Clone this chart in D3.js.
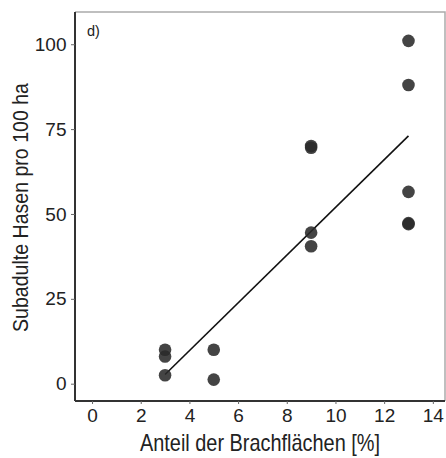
<!DOCTYPE html>
<html>
<head>
<meta charset="utf-8">
<script src="https://cdn.jsdelivr.net/npm/d3@7"></script>
<style>
  body { margin: 0; background: #fff; }
  text { font-family: "Liberation Sans Narrow", "Arial Narrow", "Liberation Sans", Arial, sans-serif; fill: #222; }
</style>
</head>
<body>
<div id="chart"></div>
<script>
// values
const brache = [3, 3, 3, 5, 5, 9, 9, 9, 9, 13, 13, 13, 13, 13]
const hasen = [10, 8, 2.5, 10, 1.2, 70, 69.5, 44.5, 40.5, 101, 88, 56.5, 47, 47.3]
const xTicks = [0, 2, 4, 6, 8, 10, 12, 14]
const yTicks = [0, 25, 50, 75, 100]
// fitted regression line, end points
const fitX = [3, 13]
const fitY = [2.7, 73]

const width = 446
const height = 458
const margin = {top: 12, right: 1, bottom: 57, left: 75}

const svg = d3.select('#chart').append('svg')
    .attr('width', width)
    .attr('height', height)

const x = d3.scaleLinear()
    .domain([-0.7, 14.5])
    .range([margin.left, width - margin.right])

const y = d3.scaleLinear()
    .domain([-5.1, 109.5])
    .range([height - margin.bottom, margin.top])

// frame (top and right, light)
svg.append('path')
    .attr('d', `M${margin.left},${margin.top}H${width - margin.right}V${height - margin.bottom}`)
    .attr('fill', 'none')
    .attr('stroke', '#aaa')
    .attr('stroke-width', 1.5)

// axes
const xAxis = svg.append('g')
    .attr('transform', `translate(0,${height - margin.bottom})`)
    .call(d3.axisBottom(x).tickValues(xTicks).tickSize(3).tickPadding(4.5))
const yAxis = svg.append('g')
    .attr('transform', `translate(${margin.left},0)`)
    .call(d3.axisLeft(y).tickValues(yTicks).tickSize(4).tickPadding(4.5))

for (const ax of [xAxis, yAxis]) {
    ax.select('.domain').attr('stroke', '#333').attr('stroke-width', 2)
    ax.selectAll('.tick line').attr('stroke', '#666')
    ax.selectAll('.tick text').attr('fill', '#222').style('font-size', '19px')
}
xAxis.select('.domain').attr('d', `M${margin.left},0H${width - margin.right}`)
yAxis.select('.domain').attr('d', `M0,${margin.top}V${height - margin.bottom}`)

// regression line
svg.append('line')
    .attr('x1', x(fitX[0])).attr('y1', y(fitY[0]))
    .attr('x2', x(fitX[1])).attr('y2', y(fitY[1]))
    .attr('stroke', '#111')
    .attr('stroke-width', 1.6)

// points
svg.append('g')
    .selectAll('circle')
    .data(brache.map((b, i) => ({b, h: hasen[i]})))
    .join('circle')
    .attr('cx', d => x(d.b))
    .attr('cy', d => y(d.h))
    .attr('r', 6.3)
    .attr('fill', '#2a2a2a')
    .attr('fill-opacity', 0.88)

// panel letter
svg.append('text')
    .attr('x', 87)
    .attr('y', 36)
    .style('font-size', '14.5px')
    .text('d)')

// axis titles
svg.append('text')
    .attr('x', 260)
    .attr('y', 451)
    .attr('text-anchor', 'middle')
    .attr('textLength', 240)
    .attr('lengthAdjust', 'spacingAndGlyphs')
    .style('font-size', '24px')
    .text('Anteil der Brachflächen [%]')

svg.append('text')
    .attr('transform', 'translate(28,207.5) rotate(-90)')
    .attr('text-anchor', 'middle')
    .attr('textLength', 249)
    .attr('lengthAdjust', 'spacingAndGlyphs')
    .style('font-size', '22px')
    .text('Subadulte Hasen pro 100 ha')
</script>
</body>
</html>
